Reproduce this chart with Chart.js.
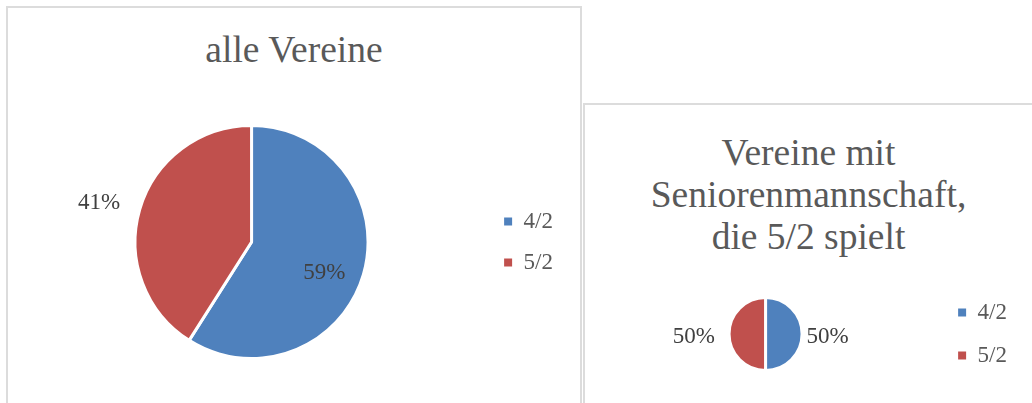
<!DOCTYPE html>
<html>
<head>
<meta charset="utf-8">
<script src="https://cdn.jsdelivr.net/npm/chart.js@4/dist/chart.umd.min.js"></script>
<style>
  html, body { margin: 0; padding: 0; background: #fff; overflow: hidden; }
  body { width: 1032px; height: 403px; position: relative; font-family: "Liberation Serif", serif; }
  .panel { position: absolute; border: 2px solid #dcdcdc; box-sizing: border-box; background: #fff; }
  .title { position: absolute; text-align: center; color: #595959; font-size: 37.5px; line-height: 42px; }
  canvas { position: absolute; }
</style>
</head>
<body>
<div class="panel" style="left:6px; top:6px; width:576px; height:430px;"></div>
<div class="panel" style="left:583px; top:103px; width:452px; height:340px;"></div>

<div class="title" style="left:8px; top:29px; width:572px;">alle Vereine</div>
<div class="title" style="left:585px; top:132px; width:447px;">Vereine mit<br>Seniorenmannschaft,<br>die 5/2 spielt</div>

<canvas id="chartAll" width="572" height="420" style="left:8px; top:8px;"></canvas>
<canvas id="chartSenior" width="447" height="400" style="left:585px; top:105px;"></canvas>

<script>
// data
const categories = ["4/2", "5/2"];
const valuesAll = [59, 41];
const valuesSenior = [50, 50];
const colors = ["#4f81bd", "#c0504d"];

const serif = "'Liberation Serif', 'Times New Roman', serif";

// draws the percentage labels next to each arc
const pieLabels = {
  id: "pieLabels",
  afterDatasetsDraw(chart, args, opts) {
    const ctx = chart.ctx;
    const meta = chart.getDatasetMeta(0);
    const data = chart.data.datasets[0].data;
    const total = data.reduce((a, b) => a + b, 0);
    ctx.save();
    ctx.font = "23px " + serif;
    ctx.fillStyle = "#404040";
    ctx.textAlign = "center";
    ctx.textBaseline = "middle";
    meta.data.forEach((arc, i) => {
      const p = arc.getProps(["x", "y", "startAngle", "endAngle", "outerRadius"], true);
      const a = (p.startAngle + p.endAngle) / 2 + (opts.shift[i] || 0) * Math.PI / 180;
      const r = p.outerRadius * opts.radius[i];
      const pct = Math.round(data[i] / total * 100) + "%";
      ctx.fillText(pct, p.x + Math.cos(a) * r, p.y + Math.sin(a) * r);
    });
    ctx.restore();
  }
};

function legendLabels(chart) {
  const items = Chart.overrides.pie.plugins.legend.labels.generateLabels(chart);
  items.forEach(it => { it.lineWidth = 0; });
  return items;
}

function makePie(id, values, radius, padding, legendPad, labelRadius, labelShift) {
  return new Chart(document.getElementById(id), {
    type: "pie",
    data: {
      labels: categories,
      datasets: [{
        data: values,
        backgroundColor: colors,
        borderColor: "#ffffff",
        borderWidth: 3
      }]
    },
    options: {
      responsive: false,
      animation: false,
      radius: radius,
      layout: { padding: padding },
      plugins: {
        tooltip: { enabled: false },
        legend: {
          position: "right",
          labels: {
            boxWidth: 8,
            boxHeight: 8,
            padding: legendPad,
            color: "#595959",
            font: { family: serif, size: 23 },
            generateLabels: legendLabels
          }
        },
        pieLabels: { radius: labelRadius, shift: labelShift }
      }
    },
    plugins: [pieLabels]
  });
}

makePie("chartAll", valuesAll, 116.5,
  { left: 9, right: 17, top: 120, bottom: 72 }, 18, [0.68, 1.35], [7, -2]);
makePie("chartSenior", valuesSenior, 36.5,
  { left: 8, right: 15, top: 102, bottom: 44 }, 20, [1.7, 1.97], [3, -2.5]);
</script>
</body>
</html>
